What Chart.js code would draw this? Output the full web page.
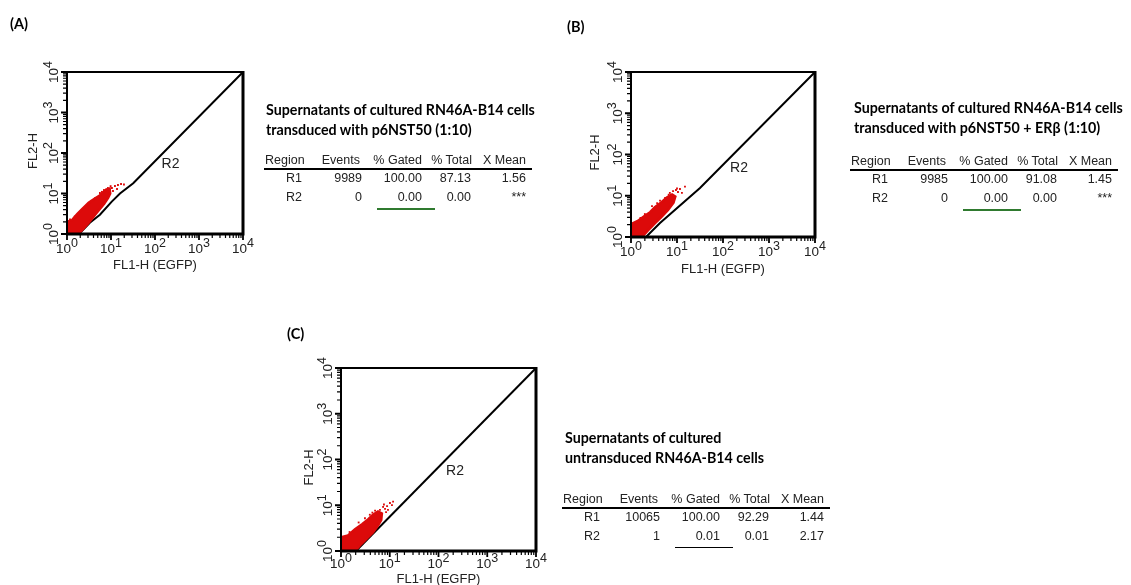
<!DOCTYPE html>
<html><head><meta charset="utf-8">
<script src="https://cdn.jsdelivr.net/npm/chart.js@4/dist/chart.umd.min.js"></script>
<style>
html,body{margin:0;padding:0;background:#fff;}
#stage{position:relative;width:1131px;height:585px;overflow:hidden;background:#fff;}
canvas{position:absolute;left:0;top:0;}
.t{position:absolute;white-space:nowrap;font-family:Lato,'Open Sans',sans-serif;font-weight:bold;color:#000;line-height:20px;height:20px;}
.c{position:absolute;white-space:nowrap;font-family:'Liberation Sans',Arial,sans-serif;font-size:12.5px;color:#222;line-height:16px;height:16px;}
.rule{position:absolute;background:#000;}
</style></head><body><div id="stage">
<canvas id="cA" width="1131" height="585"></canvas>
<canvas id="cB" width="1131" height="585"></canvas>
<canvas id="cC" width="1131" height="585"></canvas>
</div>
<script>
// ---------- axis ticks ----------
const decades = [1, 10, 100, 1000, 10000];
const exponents = ['0', '1', '2', '3', '4'];
const minorSteps = [2, 3, 4, 5, 6, 7, 8, 9];

// ---------- panel A ----------
const gateA_x = [1.87, 3.3, 5.6, 10.4, 16, 32, 10000];
const gateA_y = [1, 1.9, 3.0, 6.3, 10, 17.9, 10000];
const cloudA_x = [1, 1, 1.3, 1.7, 2.2, 3.1, 4.2, 5.62, 7.3, 9.3, 9.6, 8.6, 7.0, 4.8, 3.0, 2.2, 1.8, 1];
const cloudA_y = [1, 2.0, 2.2, 3.1, 4.1, 5.9, 7.4, 9.0, 11.8, 13.2, 10.0, 7.8, 5.6, 3.4, 1.8, 1.25, 1, 1];
const dotsA_x = [12.3, 14.4, 16.9, 19.7, 10.5, 13.7, 8.5, 6.9, 3.0, 4.3, 1.97, 1.17, 5.6, 11.1, 2.6, 3.6, 1.5, 7.8, 9.8, 6.2];
const dotsA_y = [15.3, 16.2, 17.2, 16.7, 13.7, 12.9, 13.7, 12.2, 5.2, 7.6, 3.3, 2.3, 10.3, 11.5, 4.7, 6.6, 2.7, 12.8, 15.2, 11.0];
const r2A = [225, 53];
const titleA = ['Supernatants of cultured RN46A-B14 cells', 'transduced with p6NST50 (1:10)'];
const eventsA = ['9989', '0'];
const gatedA = ['100.00', '0.00'];
const totalA = ['87.13', '0.00'];
const xmeanA = ['1.56', '***'];

// ---------- panel B ----------
const gateB_x = [2.12, 4.27, 31.6, 10000];
const gateB_y = [1, 2.19, 15.4, 10000];
const cloudB_x = [1, 1, 1.4, 2.0, 2.6, 3.3, 4.6, 6.0, 7.8, 9.2, 8.4, 6.4, 4.5, 3.3, 2.34, 1.73, 1];
const cloudB_y = [1, 2.05, 2.45, 3.25, 4.0, 5.3, 7.0, 9.1, 10.8, 9.6, 6.8, 4.5, 3.0, 2.15, 1.45, 1, 1];
const dotsB_x = [14.9, 11.6, 10.5, 9.5, 7.0, 8.2, 4.27, 2.86, 5.5, 12.8, 8.6, 2.0, 3.7, 1.6, 6.6, 10.0];
const dotsB_y = [16.6, 14.6, 12.3, 13.8, 11.7, 13.0, 7.6, 5.6, 8.8, 11.7, 7.9, 3.6, 6.6, 2.9, 10.6, 15.0];
const r2B = [223, 48];
const titleB = ['Supernatants of cultured RN46A-B14 cells', 'transduced with p6NST50 + ER\u03b2 (1:10)'];
const eventsB = ['9985', '0'];
const gatedB = ['100.00', '0.00'];
const totalB = ['91.08', '0.00'];
const xmeanB = ['1.45', '***'];

// ---------- panel C ----------
const gateC_x = [2.03, 10000];
const gateC_y = [1, 10000];
const cloudC_x = [1, 1, 1.39, 1.94, 2.7, 3.58, 4.53, 5.74, 6.9, 6.7, 5.74, 4.53, 3.26, 2.45, 1.94, 1];
const cloudC_y = [1, 2.0, 2.2, 3.0, 3.85, 4.9, 6.2, 7.3, 6.6, 4.8, 3.6, 2.55, 1.8, 1.33, 1, 1];
const dotsC_x = [11.7, 10.1, 8.8, 8.0, 7.3, 6.3, 9.2, 5.0, 3.9, 3.1, 11.1, 8.4, 2.3, 1.5, 4.4, 7.6];
const dotsC_y = [12, 11.2, 9.6, 8.3, 9.2, 7.9, 7.9, 7.6, 6.2, 5.2, 10.1, 7.1, 4.2, 2.6, 6.9, 10.4];
const r2C = [218, 56];
const titleC = ['Supernatants of cultured', 'untransduced RN46A-B14 cells'];
const eventsC = ['10065', '1'];
const gatedC = ['100.00', '0.01'];
const totalC = ['92.29', '0.01'];
const xmeanC = ['1.44', '2.17'];

const statHeaders = ['Region', 'Events', '% Gated', '% Total', 'X Mean'];
const regions = ['R1', 'R2'];
const xTitle = 'FL1-H (EGFP)';
const yTitle = 'FL2-H';

const W = 1131, H = 585;
const RED = '#dc0a0a';
const TICKFONT = "'Liberation Sans', Arial, sans-serif";

function pts(xs, ys) { return xs.map((x, i) => ({x: x, y: ys[i]})); }

function axisPlugin(cfg) {
  return {
    id: 'axes' + cfg.id,
    afterDatasetsDraw(chart) {
      const ctx = chart.ctx, xs = chart.scales.x, ys = chart.scales.y;
      const a = chart.chartArea;
      ctx.save();
      ctx.strokeStyle = '#000';
      ctx.lineCap = 'butt';
      // frame
      ctx.lineWidth = 2;
      ctx.beginPath();
      ctx.moveTo(a.left, a.bottom + 1); ctx.lineTo(a.left, a.top); ctx.lineTo(a.right + 1, a.top);
      ctx.stroke();
      ctx.lineWidth = 3;
      ctx.beginPath();
      ctx.moveTo(a.right, a.top - 1); ctx.lineTo(a.right, a.bottom); ctx.lineTo(a.left - 1, a.bottom);
      ctx.stroke();
      // ticks
      const ticks = [];
      decades.forEach((d, i) => {
        ticks.push({v: d, major: true});
        if (i < decades.length - 1) minorSteps.forEach(m => ticks.push({v: d * m, major: false}));
      });
      ticks.forEach(t => {
        const px = xs.getPixelForValue(t.v), py = ys.getPixelForValue(t.v);
        ctx.lineWidth = t.major ? 1.8 : 1.2;
        const len = t.major ? 6 : 4;
        ctx.beginPath();
        ctx.moveTo(px, a.bottom); ctx.lineTo(px, a.bottom + len);
        ctx.moveTo(a.left, py); ctx.lineTo(a.left - len, py);
        ctx.stroke();
      });
      // tick labels
      ctx.fillStyle = '#222';
      ctx.textBaseline = 'alphabetic';
      ctx.textAlign = 'left';
      const fBase = '13.5px ' + TICKFONT, fSup = '12.5px ' + TICKFONT;
      decades.forEach((d, i) => {
        ctx.font = fBase; const w10 = ctx.measureText('10').width;
        ctx.font = fSup; const ws = ctx.measureText(exponents[i]).width;
        const tot = w10 + ws;
        // x axis
        const px = xs.getPixelForValue(d);
        ctx.font = fBase; ctx.fillText('10', px - tot / 2, a.bottom + cfg.xlab);
        ctx.font = fSup; ctx.fillText(exponents[i], px - tot / 2 + w10, a.bottom + cfg.xlab - 6);
        // y axis (rotated)
        const py = ys.getPixelForValue(d);
        ctx.save();
        ctx.translate(a.left - cfg.ylab, py);
        ctx.rotate(-Math.PI / 2);
        ctx.font = fBase; ctx.fillText('10', -tot / 2, 0);
        ctx.font = fSup; ctx.fillText(exponents[i], -tot / 2 + w10, -6);
        ctx.restore();
      });
      // axis titles
      ctx.font = '13px ' + TICKFONT;
      ctx.textAlign = 'center';
      ctx.textBaseline = 'middle';
      ctx.fillText(xTitle, (a.left + a.right) / 2, a.bottom + cfg.xtit);
      ctx.save();
      ctx.translate(a.left - cfg.ytit, (a.top + a.bottom) / 2 + cfg.ytitDy);
      ctx.rotate(-Math.PI / 2);
      ctx.fillText(yTitle, 0, 0);
      ctx.restore();
      // region label
      ctx.font = '14px ' + TICKFONT;
      ctx.fillText('R2', xs.getPixelForValue(cfg.r2[0]), ys.getPixelForValue(cfg.r2[1]));
      ctx.restore();
    }
  };
}

function makeChart(cfg) {
  new Chart(document.getElementById(cfg.canvas), {
    type: 'scatter',
    data: {datasets: [
      {data: pts(cfg.cx, cfg.cy), showLine: true, fill: 'shape', backgroundColor: RED, borderColor: RED,
       borderWidth: 2.5, pointRadius: 0, tension: 0},
      {data: pts(cfg.dx, cfg.dy), pointRadius: 1.3, backgroundColor: RED, borderWidth: 0, pointStyle: 'rect'},
      {data: pts(cfg.gx, cfg.gy), showLine: true, fill: false, borderColor: '#000', borderWidth: 2,
       pointRadius: 0, tension: 0}
    ]},
    options: {
      responsive: false, animation: false, events: [],
      layout: {padding: {left: cfg.rect.l, top: cfg.rect.t, right: W - cfg.rect.r, bottom: H - cfg.rect.b}},
      plugins: {legend: {display: false}, tooltip: {enabled: false}},
      scales: {
        x: {type: 'logarithmic', min: 1, max: 10000, display: false},
        y: {type: 'logarithmic', min: 1, max: 10000, display: false}
      }
    },
    plugins: [axisPlugin(cfg)]
  });
}

makeChart({id: 'A', canvas: 'cA', rect: {l: 67, t: 72, r: 243, b: 234}, gx: gateA_x, gy: gateA_y,
  cx: cloudA_x, cy: cloudA_y, dx: dotsA_x, dy: dotsA_y, r2: r2A, xlab: 19, ylab: 9, xtit: 31, ytit: 34, ytitDy: -2});
makeChart({id: 'B', canvas: 'cB', rect: {l: 631, t: 72, r: 815, b: 237}, gx: gateB_x, gy: gateB_y,
  cx: cloudB_x, cy: cloudB_y, dx: dotsB_x, dy: dotsB_y, r2: r2B, xlab: 19, ylab: 9, xtit: 32, ytit: 36, ytitDy: -2});
makeChart({id: 'C', canvas: 'cC', rect: {l: 341, t: 368, r: 536, b: 551}, gx: gateC_x, gy: gateC_y,
  cx: cloudC_x, cy: cloudC_y, dx: dotsC_x, dy: dotsC_y, r2: r2C, xlab: 17, ylab: 9, xtit: 28, ytit: 32, ytitDy: 8});

// ---------- text: panel labels, titles, stats tables ----------
const stage = document.getElementById('stage');
function addDiv(cls, text, left, top, extra) {
  const d = document.createElement('div');
  d.className = cls; d.textContent = text;
  d.style.left = left + 'px'; d.style.top = top + 'px';
  if (extra) Object.assign(d.style, extra);
  stage.appendChild(d);
  return d;
}
const mctx = document.createElement('canvas').getContext('2d');
mctx.font = "bold 20px Lato, 'Open Sans', sans-serif";
const titleSize = 20 * 269 / mctx.measureText(titleA[0]).width;

function panelLabel(txt, left, cy) {
  addDiv('t', txt, left, cy - 10, {fontSize: (titleSize * 1.02) + 'px'});
}
panelLabel('(A)', 10, 24);
panelLabel('(B)', 567, 27);
panelLabel('(C)', 287, 334);

function title(lines, left, cy1) {
  lines.forEach((s, i) => addDiv('t', s, left, cy1 - 10 + i * 20, {fontSize: titleSize + 'px'}));
}
title(titleA, 266, 110);
title(titleB, 854, 108);
title(titleC, 565, 438);

function rightText(text, right, cy) {
  addDiv('c', text, right - 200, cy - 8, {width: '200px', textAlign: 'right'});
}
function table(L, Hc, ev, ga, to, xm, ulColor) {
  addDiv('c', statHeaders[0], L + 1, Hc - 8);
  const hr = [L + 96, L + 158, L + 208, L + 262];
  for (let k = 1; k < 5; k++) rightText(statHeaders[k], hr[k - 1], Hc);
  addDiv('rule', '', L, Hc + 8, {width: '268px', height: '2px'});
  const cols = [regions, ev, ga, to, xm];
  const cr = [L + 38, L + 98, L + 158, L + 207, L + 262];
  for (let r = 0; r < 2; r++) {
    const cy = Hc + 18 + r * 19;
    cols.forEach((c, k) => rightText(c[r], cr[k], cy));
  }
  addDiv('rule', '', L + 113, Hc + 48, {width: '58px', height: ulColor === '#000' ? '1px' : '1.5px', background: ulColor});
}
table(264, 160, eventsA, gatedA, totalA, xmeanA, '#2f7a2f');
table(850, 161, eventsB, gatedB, totalB, xmeanB, '#2f7a2f');
table(562, 499, eventsC, gatedC, totalC, xmeanC, '#000');
</script>
</body></html>
